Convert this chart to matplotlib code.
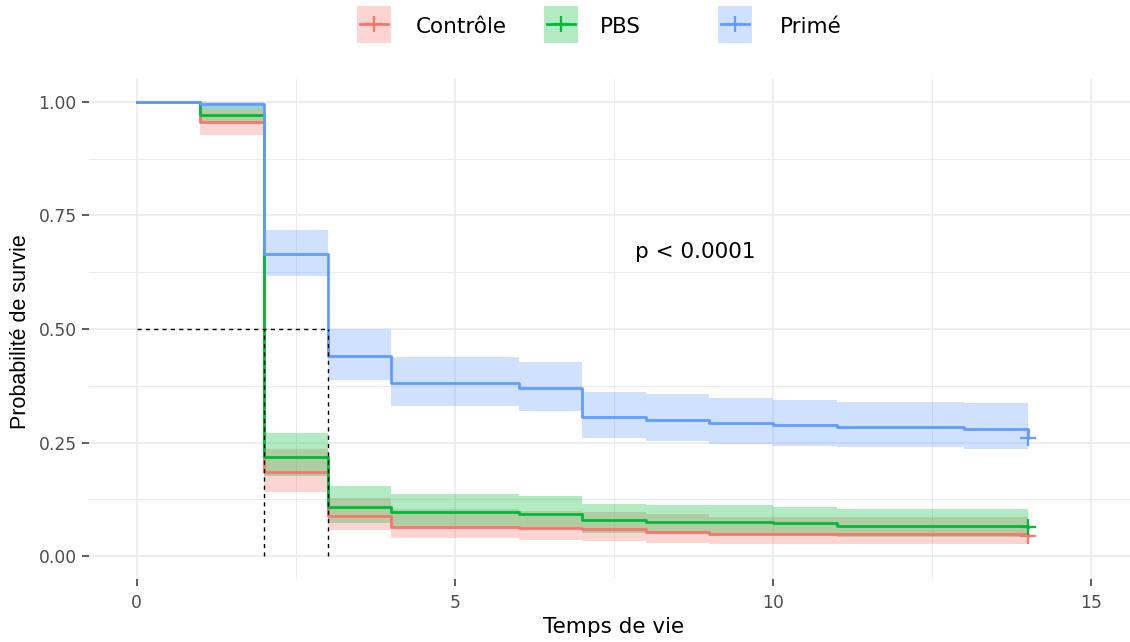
import matplotlib
matplotlib.use("Agg")
import matplotlib.pyplot as plt
from matplotlib.patches import Rectangle
from matplotlib.lines import Line2D
from matplotlib.ticker import MultipleLocator, FormatStrFormatter

plt.rcParams["font.family"] = ["DejaVu Sans"]

# --- data ---
groups = ["Contrôle", "PBS", "Primé"]
colors = ["#F8766D", "#00BA38", "#619CFF"]

time_ctrl = [0, 1, 2, 3, 4, 6, 7, 8, 9, 14]
surv_ctrl = [1.0, 0.955, 0.185, 0.088, 0.064, 0.062, 0.059, 0.053, 0.048, 0.044]
upper_ctrl = [1.0, 0.985, 0.235, 0.128, 0.105, 0.100, 0.097, 0.092, 0.086, 0.086]
lower_ctrl = [1.0, 0.927, 0.141, 0.057, 0.040, 0.036, 0.034, 0.030, 0.028, 0.028]

time_pbs = [0, 1, 2, 3, 4, 6, 7, 8, 10, 11, 14]
surv_pbs = [1.0, 0.970, 0.218, 0.108, 0.097, 0.092, 0.079, 0.075, 0.073, 0.067, 0.064]
upper_pbs = [1.0, 0.990, 0.271, 0.154, 0.137, 0.132, 0.115, 0.112, 0.108, 0.104, 0.104]
lower_pbs = [1.0, 0.951, 0.176, 0.073, 0.067, 0.062, 0.052, 0.049, 0.047, 0.042, 0.042]

time_prime = [0, 1, 2, 3, 4, 6, 7, 8, 9, 10, 11, 13, 14]
surv_prime = [1.0, 0.995, 0.665, 0.440, 0.381, 0.370, 0.306, 0.300, 0.293, 0.289, 0.285, 0.281, 0.260]
upper_prime = [1.0, 1.0, 0.718, 0.500, 0.438, 0.427, 0.361, 0.358, 0.348, 0.344, 0.340, 0.337, 0.337]
lower_prime = [1.0, 0.985, 0.617, 0.388, 0.330, 0.319, 0.260, 0.253, 0.247, 0.243, 0.240, 0.236, 0.236]

medians = [2, 2, 3]
censor_time = 14
pval_text = "p < 0.0001"

series = [
    (time_ctrl, surv_ctrl, upper_ctrl, lower_ctrl),
    (time_pbs, surv_pbs, upper_pbs, lower_pbs),
    (time_prime, surv_prime, upper_prime, lower_prime),
]

W, H = 1130, 642
fig = plt.figure(figsize=(W / 100, H / 100), dpi=100)
fig.patch.set_facecolor("white")
# panel runs a bit past the right edge, like the cropped original
ax = fig.add_axes([89 / W, (H - 579) / H, 1050 / W, 500 / H])

for (t, s, up, lo), col in zip(series, colors):
    ax.fill_between(t, lo, up, step="post", color=col, alpha=0.3, linewidth=0, zorder=2)
for (t, s, up, lo), col in zip(series, colors):
    ax.step(t, s, where="post", color=col, lw=2.0, zorder=3)
    ax.plot([censor_time], [s[-1]], marker="+", ms=11, mew=1.6, color=col, zorder=4)

# median survival guides
mmax = max(medians)
ax.plot([0, mmax], [0.5, 0.5], ls=(0, (3, 3)), color="black", lw=1.0, zorder=5)
for m in sorted(set(medians)):
    ax.plot([m, m], [0, 0.5], ls=(0, (3, 3)), color="black", lw=1.0, zorder=5)

ax.text(8.77, 0.656, pval_text, fontsize=15.5, ha="center", va="baseline", color="black")

ax.set_xlim(-0.75, 15.75)
ax.set_ylim(-0.05, 1.05)
ax.xaxis.set_major_locator(MultipleLocator(5))
ax.xaxis.set_minor_locator(MultipleLocator(2.5))
ax.yaxis.set_major_locator(MultipleLocator(0.25))
ax.yaxis.set_minor_locator(MultipleLocator(0.125))
ax.yaxis.set_major_formatter(FormatStrFormatter("%.2f"))

ax.grid(which="major", color="#EBEBEB", lw=1.2, zorder=0)
ax.grid(which="minor", color="#EBEBEB", lw=0.7, zorder=0)
ax.set_axisbelow(True)
for sp in ax.spines.values():
    sp.set_visible(False)
ax.tick_params(which="major", length=5, width=1.1, color="#333333",
               labelsize=12.3, labelcolor="#4D4D4D")
ax.tick_params(axis="x", pad=6)
ax.tick_params(axis="y", pad=4)
ax.tick_params(which="minor", length=0)

ax.set_xlabel("Temps de vie", fontsize=15.5)
ax.xaxis.set_label_coords(0.5, -0.1086)
ax.xaxis.label.set_verticalalignment("baseline")
ax.set_ylabel("Probabilité de survie", fontsize=15.5, family="Liberation Sans")
ax.yaxis.set_label_coords(-0.0657, 0.494)
ax.yaxis.label.set_verticalalignment("center")

# legend drawn along the top
key_x = [357, 544, 718]
text_x = [416, 600, 780]
key_w, key_h, key_cy = 34, 37, 24
for kx, tx, col, name in zip(key_x, text_x, colors, groups):
    fig.add_artist(Rectangle((kx / W, (H - key_cy - key_h / 2) / H), key_w / W, key_h / H,
                             transform=fig.transFigure, facecolor=col, alpha=0.3,
                             edgecolor="none"))
    fig.add_artist(Line2D([(kx + 3) / W, (kx + key_w - 3) / W], [(H - key_cy) / H] * 2,
                          transform=fig.transFigure, color=col, lw=2.0))
    fig.add_artist(Line2D([(kx + key_w / 2) / W], [(H - key_cy) / H],
                          transform=fig.transFigure, color=col, marker="+",
                          ms=11, mew=1.6))
    fig.text(tx / W, (H - 33.3) / H, name, fontsize=15.5, ha="left", va="baseline")

fig.savefig("out.png", dpi=100)
